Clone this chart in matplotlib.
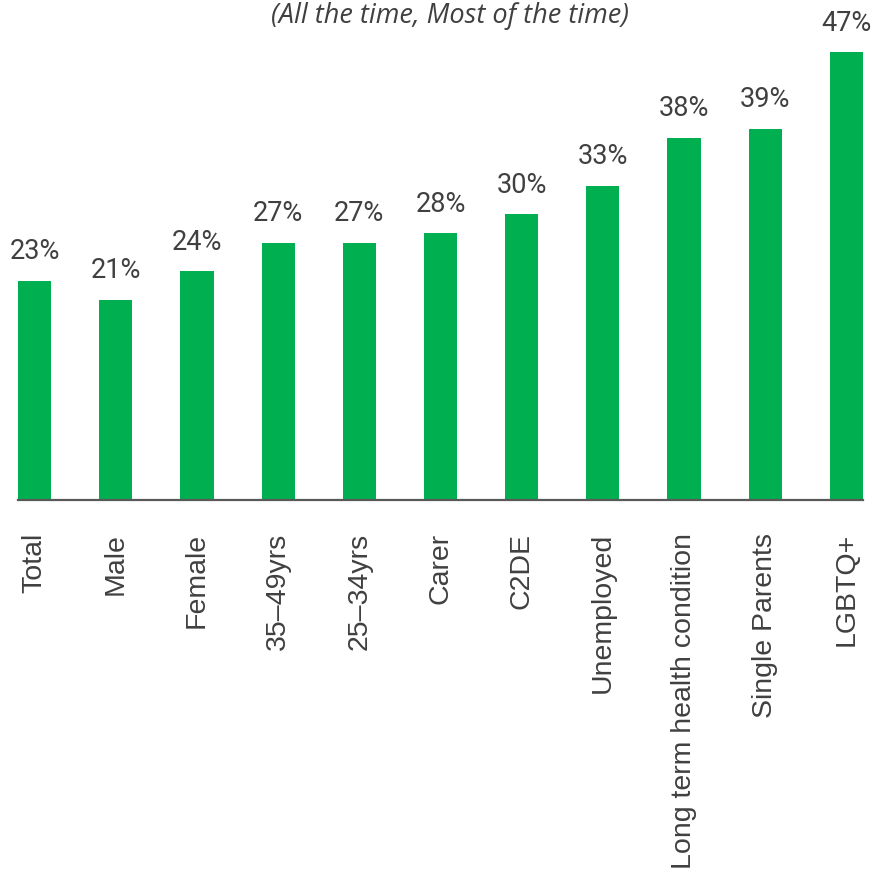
import matplotlib.pyplot as plt

# Dados do gráfico
categorias = ["Total", "Male", "Female", "35-49yrs", "25-34yrs", "Carer", "C2DE",
              "Unemployed", "Long term health condition", "Single Parents", "LGBTQ+"]
valores = [23, 21, 24, 27, 27, 28, 30, 33, 38, 39, 47]

verde = "#00B050"
cinza = "#404040"

fig = plt.figure(figsize=(8.76, 8.79), dpi=100)
ax = fig.add_axes([18 / 876, (879 - 501) / 879, (863 - 18) / 876, 501 / 879])

x = range(len(categorias))
ax.bar(x, valores, width=0.41, color=verde)

for xi, v in zip(x, valores):
    ax.annotate(f"{v}%", (xi, v), xytext=(0, 12), textcoords="offset points",
                ha="center", va="bottom", fontsize=19.5, color=cinza, family="Roboto")

ax.set_xlim(-0.205, len(categorias) - 1 + 0.205)
ax.set_ylim(0, 52.6)

ax.set_xticks(list(x))
ax.set_xticklabels([c.replace("-", "\u2013") for c in categorias], rotation=90,
                   fontsize=20.5, color=cinza, family="Liberation Sans", va="top")
ax.tick_params(axis="x", length=0, pad=23)
ax.set_yticks([])

for lado in ["top", "right", "left"]:
    ax.spines[lado].set_visible(False)
ax.spines["bottom"].set_color("#595959")
ax.spines["bottom"].set_linewidth(1.6)

fig.text(450 / 876, 1 - 16 / 879, "(All the time, Most of the time)", ha="center",
         va="center", fontsize=19.5, style="italic", color=cinza, family="Open Sans")

fig.savefig("out.png", dpi=100)
